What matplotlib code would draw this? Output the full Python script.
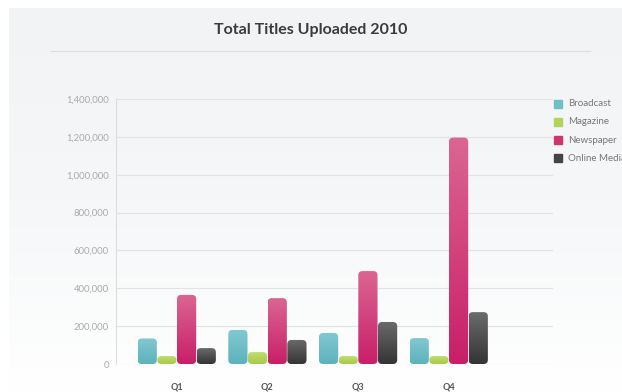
import numpy as np
import matplotlib.pyplot as plt
from matplotlib.patches import FancyBboxPatch, Rectangle
from matplotlib.colors import LinearSegmentedColormap
from matplotlib.lines import Line2D
from matplotlib.ticker import FuncFormatter

plt.rcParams['font.family'] = ['Lato', 'DejaVu Sans']

quarters = ['Q1', 'Q2', 'Q3', 'Q4']
series = ['Broadcast', 'Magazine', 'Newspaper', 'Online Media']
broadcast = [135000, 180000, 164000, 137000]
magazine = [42000, 63000, 42000, 42000]
newspaper = [365000, 348000, 491000, 1196000]
online_media = [84000, 127000, 222000, 274000]

# top / bottom shades for each series
shades = [('#82c9d1', '#5db2bc'),
          ('#c0dc70', '#a6ca48'),
          ('#db6692', '#c81f68'),
          ('#6b6b6b', '#343434')]
swatch = ['#6fbfc8', '#b2d35c', '#d2336f', '#444444']

W, H = 622, 392
fig = plt.figure(figsize=(W / 100, H / 100), dpi=100)
fig.patch.set_facecolor('white')

# soft grey backdrop fading to white towards the bottom
bg = fig.add_axes([9 / W, 0, 1 - 9 / W, 1 - 8 / H], zorder=-5)
grad = np.linspace(0, 1, 256).reshape(-1, 1)
bg_cmap = LinearSegmentedColormap.from_list('bg', ['#f2f3f4', '#f5f7f8', '#ffffff'])
bg.imshow(grad, aspect='auto', cmap=bg_cmap, extent=[0, 1, 0, 1], origin='upper')
bg.set_axis_off()

fig.text(0.5, 1 - 30 / H, 'Total Titles Uploaded 2010', ha='center', va='center',
         fontsize=11.5, fontweight='bold', color='#3b3b3b')
fig.add_artist(Line2D([50 / W, 590 / W], [1 - 51 / H, 1 - 51 / H],
                      color='#dddddd', lw=0.8, transform=fig.transFigure))

ax_l, ax_r, ax_t, ax_b = 116, 553, 99, 364
ax = fig.add_axes([ax_l / W, 1 - ax_b / H, (ax_r - ax_l) / W, (ax_b - ax_t) / H])
ax.patch.set_alpha(0)

x = np.arange(len(quarters))
bw = 0.212
step = 0.217
xlim = (-0.67, 4.15)
ylim = (0, 1400000)

# rounding radius, keeping corners circular in pixel space
asp = ((ylim[1] - ylim[0]) / (ax_b - ax_t)) / ((xlim[1] - xlim[0]) / (ax_r - ax_l))
r = 4.2 * (xlim[1] - xlim[0]) / (ax_r - ax_l)

values = [broadcast, magazine, newspaper, online_media]
for i, (vals, (top, bot)) in enumerate(zip(values, shades)):
    bars = ax.bar(x + (i - 1.5) * step, vals, width=bw, color=swatch[i], label=series[i])
    cmap = LinearSegmentedColormap.from_list(series[i], [top, bot])
    for p in bars.patches:
        x0, y0 = p.get_x(), p.get_y()
        w, h = p.get_width(), p.get_height()
        p.set_visible(False)
        shape = FancyBboxPatch((x0, y0), w, h,
                               boxstyle=f'round,pad=0,rounding_size={r}',
                               mutation_aspect=asp, facecolor='none',
                               edgecolor='none', zorder=3)
        ax.add_patch(shape)
        im = ax.imshow(grad, aspect='auto', cmap=cmap, extent=[x0, x0 + w, y0, y0 + h],
                       origin='upper', zorder=3)
        im.set_clip_path(shape)

ax.set_xlim(*xlim)
ax.set_ylim(*ylim)
ax.set_yticks(np.arange(0, 1400001, 200000))
ax.yaxis.set_major_formatter(FuncFormatter(lambda v, _: f'{v:,.0f}'))
ax.set_xticks(x)
ax.set_xticklabels(quarters, fontsize=6.5, fontweight='bold', color='#555555')
ax.tick_params(axis='x', length=0, pad=13)
ax.tick_params(axis='y', length=0, pad=5, labelsize=6.8, labelcolor='#aaaaaa')
ax.grid(axis='y', color='#e2e2e2', lw=0.8)
ax.set_axisbelow(True)
for s in ['top', 'right', 'bottom']:
    ax.spines[s].set_visible(False)
ax.spines['left'].set_color('#dddddd')
ax.spines['left'].set_linewidth(0.8)

# legend on the right, running off the edge of the canvas
for i, name in enumerate(series):
    yy = 1 - (104 + 18 * i) / H
    fig.add_artist(Rectangle((554 / W, yy - 4 / H), 8 / W, 8 / H, color=swatch[i],
                             transform=fig.transFigure))
    fig.text(568 / W, yy, name, ha='left', va='center', fontsize=7, color='#777777')

fig.savefig('out.png', dpi=100)
